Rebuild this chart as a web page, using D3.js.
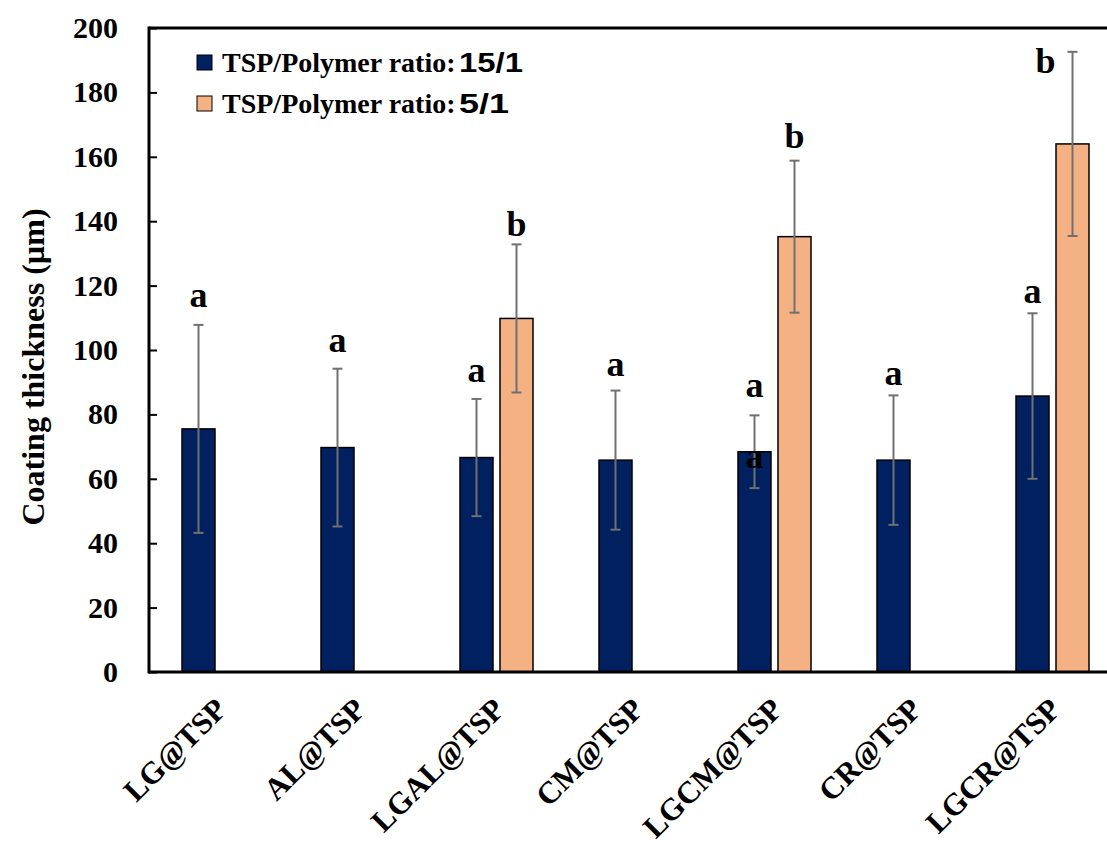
<!DOCTYPE html>
<html>
<head>
<meta charset="utf-8">
<script src="https://cdn.jsdelivr.net/npm/d3@7"></script>
<style>
  body { margin: 0; background: #fff; }
  text { font-family: "Liberation Serif", "Times New Roman", "DejaVu Serif", serif; font-weight: bold; }
</style>
</head>
<body>
<div id="chart"></div>
<script>
const categories = ["LG@TSP", "AL@TSP", "LGAL@TSP", "CM@TSP", "LGCM@TSP", "CR@TSP", "LGCR@TSP"];
const seriesNames = ["15/1", "5/1"];

// 15/1 ratio, all categories
const thick15 = [75.5, 69.7, 66.6, 65.8, 68.4, 65.8, 85.7];
const err15 = [32.3, 24.5, 18.2, 21.6, 11.3, 20.1, 25.7];
// 5/1 ratio, only blends
const thick5 = [null, null, 109.8, null, 135.2, null, 164.0];
const err5 = [null, null, 23.0, null, 23.6, null, 28.6];

const yTicks = [0, 20, 40, 60, 80, 100, 120, 140, 160, 180, 200];

// significance letters: category, series index, letter, baseline in data units
const letters = [
  ["LG@TSP", 0, "a", 113.5],
  ["AL@TSP", 0, "a", 99.5],
  ["LGAL@TSP", 0, "a", 90],
  ["LGAL@TSP", 1, "b", 135.5],
  ["CM@TSP", 0, "a", 92],
  ["LGCM@TSP", 0, "a", 85.5],
  ["LGCM@TSP", 0, "a", 63.5],
  ["LGCM@TSP", 1, "b", 162.7],
  ["CR@TSP", 0, "a", 89.1],
  ["LGCR@TSP", 0, "a", 114.6],
  ["LGCR@TSP", 1, "b", 186]
];

const W = 1107, H = 845;
const mLeft = 149, mTop = 28, mBottom = 672;
const colors = ["#002060", "#F4B183"];

const svg = d3.select("#chart").append("svg")
  .attr("width", W).attr("height", H);

const x = d3.scaleBand().domain(categories).range([mLeft, mLeft + 973]);
const y = d3.scaleLinear().domain([0, 200]).range([mBottom, mTop]);

const barW = 33, gap = 3.5;
const barX = (c, s) => s === 0 ? x(c) + x.bandwidth() / 2 - gap - barW : x(c) + x.bandwidth() / 2 + gap;

const rows = [];
categories.forEach((c, i) => {
  rows.push({ c: c, s: 0, v: thick15[i], e: err15[i] });
  if (thick5[i] != null) rows.push({ c: c, s: 1, v: thick5[i], e: err5[i] });
});

svg.selectAll("rect.bar")
  .data(rows)
  .enter()
  .append("rect")
  .attr("class", "bar")
  .attr("x", d => barX(d.c, d.s))
  .attr("y", d => y(d.v))
  .attr("width", barW)
  .attr("height", d => y(0) - y(d.v))
  .attr("fill", d => colors[d.s])
  .attr("stroke", "#000")
  .attr("stroke-width", 1.5);

// error bars
const eb = svg.selectAll("g.err").data(rows).enter().append("g")
  .attr("stroke", "#707070").attr("stroke-width", 2);
eb.append("line")
  .attr("x1", d => barX(d.c, d.s) + barW / 2).attr("x2", d => barX(d.c, d.s) + barW / 2)
  .attr("y1", d => y(d.v + d.e)).attr("y2", d => y(d.v - d.e));
[1, -1].forEach(sign => {
  eb.append("line")
    .attr("x1", d => barX(d.c, d.s) + barW / 2 - 5).attr("x2", d => barX(d.c, d.s) + barW / 2 + 5)
    .attr("y1", d => y(d.v + sign * d.e)).attr("y2", d => y(d.v + sign * d.e));
});

// letters
svg.selectAll("text.sig")
  .data(letters)
  .enter()
  .append("text")
  .attr("class", "sig")
  .attr("x", d => {
    const cx = barX(d[0], d[1]) + barW / 2;
    // the last "b" sits left of its bar, next to the top of the frame
    return d[3] > y.domain()[1] - 20 ? cx - 27 : cx;
  })
  .attr("y", d => y(d[3]))
  .attr("text-anchor", "middle")
  .style("font-size", "36px")
  .text(d => d[2]);

// y axis
const yAxis = svg.append("g")
  .attr("transform", `translate(${mLeft},0)`)
  .call(d3.axisRight(y).tickValues(yTicks).tickSize(8).tickFormat(""));
yAxis.select(".domain").remove();
yAxis.selectAll("line").attr("stroke", "#000").attr("stroke-width", 2);

svg.selectAll("text.ytick")
  .data(yTicks)
  .enter()
  .append("text")
  .attr("class", "ytick")
  .attr("x", 118)
  .attr("y", d => y(d) + 10)
  .attr("text-anchor", "end")
  .style("font-size", "30px")
  .text(d => d);

// frame lines
svg.append("line").attr("x1", mLeft).attr("x2", mLeft).attr("y1", mTop - 1.5).attr("y2", mBottom + 1.5)
  .attr("stroke", "#000").attr("stroke-width", 3);
svg.append("line").attr("x1", mLeft).attr("x2", W).attr("y1", mBottom).attr("y2", mBottom)
  .attr("stroke", "#000").attr("stroke-width", 3);
svg.append("line").attr("x1", mLeft).attr("x2", W).attr("y1", mTop).attr("y2", mTop)
  .attr("stroke", "#000").attr("stroke-width", 3);

// category labels
svg.selectAll("text.cat")
  .data(categories)
  .enter()
  .append("text")
  .attr("class", "cat")
  .attr("text-anchor", "end")
  .attr("transform", d => `translate(${x(d) + x.bandwidth() / 2 + 10},${711}) rotate(-45)`)
  .style("font-size", "31px")
  .text(d => d);

// y title
svg.append("text")
  .attr("transform", "translate(44,367) rotate(-90)")
  .attr("text-anchor", "middle")
  .style("font-size", "32px")
  .text("Coating thickness (\u00b5m)");

// legend
const lg = svg.selectAll("g.legend").data(seriesNames).enter().append("g")
  .attr("transform", (d, i) => `translate(197,${55 + i * 41})`);
lg.append("rect").attr("width", 15).attr("height", 15)
  .attr("fill", (d, i) => colors[i]).attr("stroke", "#000").attr("stroke-width", 1);
lg.append("text").attr("x", 25).attr("y", 17).style("font-size", "28px")
  .text("TSP/Polymer ratio:");
lg.append("text").attr("x", 262).attr("y", 17)
  .style("font-family", "'Liberation Sans', Arial, sans-serif")
  .style("font-size", "28px")
  .attr("lengthAdjust", "spacingAndGlyphs")
  .attr("textLength", (d, i) => [64, 50][i])
  .text(d => d);
</script>
</body>
</html>
